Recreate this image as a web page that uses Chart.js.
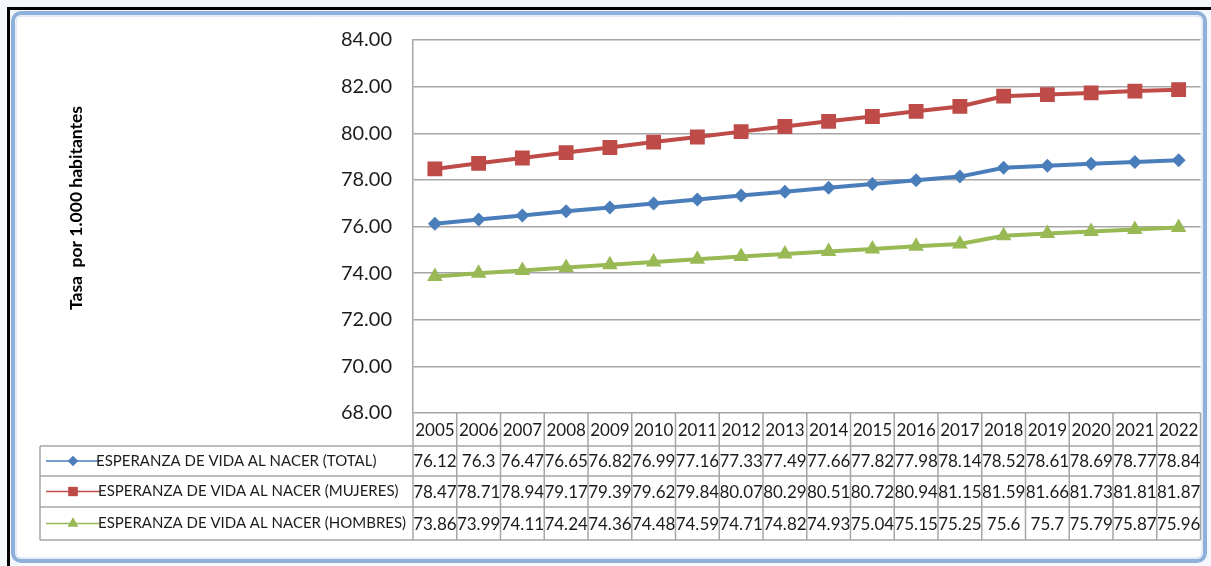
<!DOCTYPE html>
<html>
<head>
<meta charset="utf-8">
<script src="https://cdn.jsdelivr.net/npm/chart.js@4/dist/chart.umd.min.js"></script>
<style>
  html, body { margin: 0; padding: 0; background: #fff; }
</style>
</head>
<body>
<canvas id="esperanza" width="1211" height="566"></canvas>
<script>
const years = ['2005', '2006', '2007', '2008', '2009', '2010', '2011', '2012', '2013',
  '2014', '2015', '2016', '2017', '2018', '2019', '2020', '2021', '2022'];
const totalVida = [76.12, 76.3, 76.47, 76.65, 76.82, 76.99, 77.16, 77.33, 77.49,
  77.66, 77.82, 77.98, 78.14, 78.52, 78.61, 78.69, 78.77, 78.84];
const mujeresVida = [78.47, 78.71, 78.94, 79.17, 79.39, 79.62, 79.84, 80.07, 80.29,
  80.51, 80.72, 80.94, 81.15, 81.59, 81.66, 81.73, 81.81, 81.87];
const hombresVida = [73.86, 73.99, 74.11, 74.24, 74.36, 74.48, 74.59, 74.71, 74.82,
  74.93, 75.04, 75.15, 75.25, 75.6, 75.7, 75.79, 75.87, 75.96];
const yMin = 68;
const yMax = 84;
const yStep = 2;
const yTitle = 'Tasa  por 1.000 habitantes';

const gris = '#a6a6a6';
const texto = '#1c1c1c';

// marco de la ventana (borde negro + borde azul del grafico de excel)
const marco = {
  id: 'marco',
  beforeDraw(chart) {
    const ctx = chart.ctx;
    ctx.save();
    ctx.fillStyle = '#f4f8fc';
    ctx.fillRect(0, 0, chart.width, chart.height);
    ctx.fillStyle = '#000';
    ctx.fillRect(8, 7, chart.width - 8, 3);
    ctx.fillRect(7, 7, 3, chart.height - 7);
    ctx.fillStyle = '#fff';
    ctx.beginPath();
    ctx.roundRect(13, 13, 1192, 548, 8);
    ctx.fill();
    ctx.strokeStyle = '#8eb0d9';
    ctx.lineWidth = 4;
    ctx.stroke();
    ctx.strokeStyle = '#c9dcf0';
    ctx.lineWidth = 1;
    ctx.beginPath();
    ctx.roundRect(16, 16, 1186, 542, 6);
    ctx.stroke();
    ctx.restore();
  }
};

// tabla de datos debajo del grafico
const tablaDatos = {
  id: 'tablaDatos',
  afterDraw(chart) {
    const ctx = chart.ctx;
    const area = chart.chartArea;
    const xs = chart.scales.x;
    const step = (area.right - area.left) / years.length;
    const filas = [446, 476, 507, 540];
    const tablaLeft = 40;

    ctx.save();
    ctx.strokeStyle = gris;
    ctx.lineWidth = 1.5;
    ctx.beginPath();
    for (let i = 0; i <= years.length; i++) {
      const x = area.left + i * step;
      ctx.moveTo(x, area.bottom);
      ctx.lineTo(x, filas[3]);
    }
    filas.forEach((y) => {
      ctx.moveTo(tablaLeft, y);
      ctx.lineTo(area.right, y);
    });
    ctx.moveTo(tablaLeft, filas[0]);
    ctx.lineTo(tablaLeft, filas[3]);
    ctx.stroke();

    ctx.fillStyle = texto;
    ctx.font = '17px Lato';
    ctx.textAlign = 'center';
    ctx.textBaseline = 'middle';
    years.forEach((y, i) => ctx.fillText(y, xs.getPixelForValue(i), 431));

    chart.data.datasets.forEach((ds, r) => {
      const top = filas[r];
      const cy = (filas[r] + filas[r + 1]) / 2 + 1;
      ds.data.forEach((v, i) => {
        const x0 = area.left + i * step;
        ctx.save();
        ctx.beginPath();
        ctx.rect(x0 + 1, top, step - 1.5, filas[r + 1] - top);
        ctx.clip();
        ctx.fillStyle = texto;
        ctx.font = '17px Lato';
        ctx.textAlign = 'center';
        ctx.textBaseline = 'middle';
        ctx.fillText(String(v), xs.getPixelForValue(i), cy);
        ctx.restore();
      });

      // clave de la leyenda
      const ky = cy - 1;
      ctx.strokeStyle = ds.borderColor;
      ctx.lineWidth = 1.5;
      ctx.beginPath();
      ctx.moveTo(46, ky);
      ctx.lineTo(100, ky);
      ctx.stroke();
      ctx.fillStyle = ds.backgroundColor;
      Chart.helpers.drawPoint(ctx, {
        pointStyle: ds.pointStyle,
        radius: ds.legendRadius,
        rotation: 0,
        borderWidth: 0,
      }, 73, ky);
      ctx.fill();

      ctx.fillStyle = texto;
      ctx.font = '15px Lato';
      ctx.textAlign = 'left';
      ctx.fillText(ds.label, ds.textX, ky);
    });

    // titulo del eje y
    ctx.translate(76, 208);
    ctx.rotate(-Math.PI / 2);
    ctx.fillStyle = '#000';
    ctx.font = 'bold 17.5px Lato';
    ctx.textAlign = 'center';
    ctx.textBaseline = 'middle';
    ctx.fillText(yTitle, 0, 0);
    ctx.restore();
  }
};

Chart.defaults.font.family = 'Lato, sans-serif';

let ctx = document.getElementById('esperanza');
const data = {
  labels: years,
  datasets: [
    {
      label: 'ESPERANZA DE VIDA AL NACER (TOTAL)',
      data: totalVida,
      borderColor: '#4a7ebb',
      backgroundColor: '#4a7ebb',
      pointStyle: 'rectRot',
      pointRadius: 7,
      legendRadius: 5,
      textX: 96,
    },
    {
      label: 'ESPERANZA DE VIDA AL NACER (MUJERES)',
      data: mujeresVida,
      borderColor: '#be4b48',
      backgroundColor: '#be4b48',
      pointStyle: 'rect',
      pointRadius: 10.5,
      legendRadius: 6.5,
      textX: 98,
    },
    {
      label: 'ESPERANZA DE VIDA AL NACER (HOMBRES)',
      data: hombresVida,
      borderColor: '#98b954',
      backgroundColor: '#98b954',
      pointStyle: 'triangle',
      pointRadius: 9,
      legendRadius: 6,
      textX: 98,
    },
  ],
};
data.datasets.forEach((ds) => {
  ds.borderWidth = 4;
  ds.pointBorderWidth = 0;
  ds.pointHoverRadius = ds.pointRadius;
  ds.tension = 0;
});

const config = {
  type: 'line',
  data,
  options: {
    responsive: false,
    animation: false,
    layout: {
      padding: { left: 0, top: 40, right: 7, bottom: 153 },
    },
    plugins: {
      legend: { display: false },
      tooltip: { enabled: false },
    },
    scales: {
      x: {
        display: false,
        offset: true,
      },
      y: {
        min: yMin,
        max: yMax,
        afterFit: (s) => { s.width = 413; },
        grid: { color: gris, lineWidth: 1.5, drawTicks: false },
        border: { display: true, color: gris, width: 1.5 },
        ticks: {
          stepSize: yStep,
          padding: 21,
          color: texto,
          font: { size: 20 },
          callback: (v) => v.toFixed(2),
        },
      },
    },
  },
  plugins: [marco, tablaDatos],
};
new Chart(ctx, config);
</script>
</body>
</html>
